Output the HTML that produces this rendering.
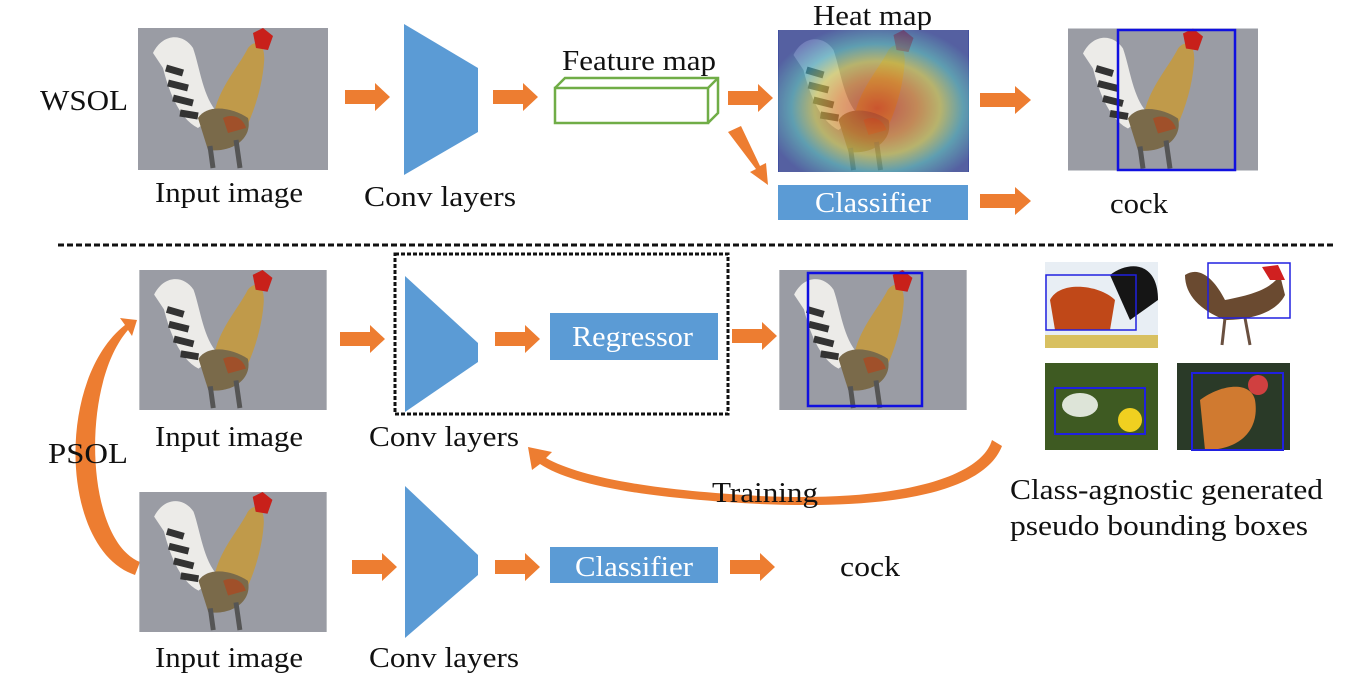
<!DOCTYPE html>
<html><head><meta charset="utf-8"><style>
body{margin:0;background:#fff}
svg{display:block}
text{font-family:"Liberation Serif",serif;fill:#111}
</style></head><body>
<svg width="1347" height="698" viewBox="0 0 1347 698" xmlns="http://www.w3.org/2000/svg">
<defs>
<symbol id="rooster" viewBox="0 0 190 142">
<rect width="190" height="142" fill="#9a9ca4"/>
<path d="M15 25 C25 5 45 5 55 20 C62 40 65 70 80 85 L60 100 C40 90 30 60 25 40 Z" fill="#ecebe8"/>
<path d="M28 40 L45 45 M30 55 L50 60 M35 70 L55 75 M42 85 L60 88" stroke="#333" stroke-width="7"/>
<path d="M75 90 C80 60 100 40 110 20 C118 10 128 15 126 35 C124 60 115 90 100 115 L70 120 Z" fill="#c09a4a"/>
<path d="M60 90 C70 75 95 80 110 90 C115 110 95 125 70 122 Z" fill="#7a6a4a"/>
<path d="M85 90 C95 85 105 90 108 100 L90 105 Z" fill="#a0502a"/>
<path d="M115 5 L125 0 L135 8 L130 22 L118 20 Z" fill="#c8201a"/>
<path d="M72 118 L75 140 M98 112 L102 140" stroke="#555" stroke-width="5"/>
</symbol>
<radialGradient id="heat" cx="0.52" cy="0.55" r="0.6">
<stop offset="0" stop-color="#d03020"/><stop offset="0.35" stop-color="#d88030"/><stop offset="0.55" stop-color="#c8c050"/><stop offset="0.75" stop-color="#40a0b8"/><stop offset="1" stop-color="#3040a0"/>
</radialGradient>
</defs>
<!-- top row -->
<text x="40" y="110" font-size="28" textLength="88" lengthAdjust="spacingAndGlyphs">WSOL</text>
<use href="#rooster" x="138" y="28" width="190" height="142"/>
<text x="155" y="202" font-size="28" textLength="148" lengthAdjust="spacingAndGlyphs">Input image</text>
<polygon points="345,90 375,90 375,83 390,97 375,111 375,104 345,104" fill="#ed7d31"/>
<polygon points="404,24 478,68 478,132 404,175" fill="#5b9bd5"/>
<text x="364" y="206" font-size="28" textLength="152" lengthAdjust="spacingAndGlyphs">Conv layers</text>
<polygon points="493,90 523,90 523,83 538,97 523,111 523,104 493,104" fill="#ed7d31"/>
<text x="562" y="70" font-size="28" textLength="154" lengthAdjust="spacingAndGlyphs">Feature map</text>
<g fill="none" stroke="#70ad47" stroke-width="2.5"><rect x="555" y="88" width="153" height="35"/><polyline points="555,88 565,78 718,78 718,113 708,123"/><line x1="708" y1="88" x2="718" y2="78"/></g>
<polygon points="728,91 758,91 758,84 773,98 758,112 758,105 728,105" fill="#ed7d31"/>
<text x="813" y="25" font-size="28" textLength="119" lengthAdjust="spacingAndGlyphs">Heat map</text>
<rect x="778" y="30" width="191" height="142" fill="url(#heat)"/>
<use href="#rooster" x="778" y="30" width="191" height="142" opacity="0.35"/>
<polygon points="728,132 741,126 760,166 766,163 768,185 750,172 756,169" fill="#ed7d31"/>
<rect x="778" y="185" width="190" height="35" fill="#5b9bd5"/>
<text x="815" y="212" font-size="28" textLength="116" lengthAdjust="spacingAndGlyphs" style="fill:#fff">Classifier</text>
<polygon points="980,93 1015,93 1015,86 1031,100 1015,114 1015,107 980,107" fill="#ed7d31"/>
<polygon points="980,194 1015,194 1015,187 1031,201 1015,215 1015,208 980,208" fill="#ed7d31"/>
<use href="#rooster" x="1068" y="28" width="190" height="143"/>
<rect x="1118" y="30" width="117" height="140" fill="none" stroke="#1010e0" stroke-width="2.5"/>
<text x="1110" y="213" font-size="28" textLength="58" lengthAdjust="spacingAndGlyphs">cock</text>
<line x1="58" y1="245" x2="1333" y2="245" stroke="#111" stroke-width="3" stroke-dasharray="6,3"/>
<!-- bottom -->
<use href="#rooster" x="138" y="270" width="190" height="140"/>
<text x="155" y="446" font-size="28" textLength="148" lengthAdjust="spacingAndGlyphs">Input image</text>
<path d="M135 575 C60 550 55 380 125 325 L120 318 L137 320 L132 336 L128 330 C80 385 85 540 140 562 Z" fill="#ed7d31"/>
<text x="48" y="463" font-size="28" textLength="80" lengthAdjust="spacingAndGlyphs">PSOL</text>
<rect x="395" y="254" width="333" height="160" fill="none" stroke="#111" stroke-width="3" stroke-dasharray="4,2"/>
<polygon points="340,332 370,332 370,325 385,339 370,353 370,346 340,346" fill="#ed7d31"/>
<polygon points="405,276 478,343 478,362 405,412" fill="#5b9bd5"/>
<polygon points="495,332 525,332 525,325 540,339 525,353 525,346 495,346" fill="#ed7d31"/>
<rect x="550" y="313" width="168" height="47" fill="#5b9bd5"/>
<text x="572" y="346" font-size="28" textLength="121" lengthAdjust="spacingAndGlyphs" style="fill:#fff">Regressor</text>
<polygon points="732,329 762,329 762,322 777,336 762,350 762,343 732,343" fill="#ed7d31"/>
<use href="#rooster" x="778" y="270" width="190" height="140"/>
<rect x="808" y="273" width="114" height="133" fill="none" stroke="#1010e0" stroke-width="2.5"/>
<text x="369" y="446" font-size="28" textLength="150" lengthAdjust="spacingAndGlyphs">Conv layers</text>
<path d="M1002 446 C985 490 900 510 760 504 C640 498 570 484 540 464 L532 470 L528 447 L552 452 L546 458 C580 477 650 490 760 496 C890 502 980 480 992 440 Z" fill="#ed7d31"/>
<text x="712" y="502" font-size="28" textLength="106" lengthAdjust="spacingAndGlyphs">Training</text>
<use href="#rooster" x="138" y="492" width="190" height="140"/>
<text x="155" y="667" font-size="28" textLength="148" lengthAdjust="spacingAndGlyphs">Input image</text>
<polygon points="352,560 382,560 382,553 397,567 382,581 382,574 352,574" fill="#ed7d31"/>
<polygon points="405,486 478,555 478,575 405,638" fill="#5b9bd5"/>
<text x="369" y="667" font-size="28" textLength="150" lengthAdjust="spacingAndGlyphs">Conv layers</text>
<polygon points="495,560 525,560 525,553 540,567 525,581 525,574 495,574" fill="#ed7d31"/>
<rect x="550" y="547" width="168" height="36" fill="#5b9bd5"/>
<text x="575" y="576" font-size="28" textLength="118" lengthAdjust="spacingAndGlyphs" style="fill:#fff">Classifier</text>
<polygon points="730,560 760,560 760,553 775,567 760,581 760,574 730,574" fill="#ed7d31"/>
<text x="840" y="576" font-size="28" textLength="60" lengthAdjust="spacingAndGlyphs">cock</text>
<!-- thumbnails -->
<rect x="1045" y="262" width="113" height="86" fill="#e8eef4"/>
<path d="M1050 300 C1060 280 1100 285 1115 300 L1110 330 L1055 330 Z" fill="#c04818"/>
<path d="M1110 275 C1130 260 1158 262 1158 300 L1130 320 Z" fill="#151515"/>
<rect x="1045" y="335" width="113" height="13" fill="#d8c060"/>
<rect x="1046" y="275" width="90" height="55" fill="none" stroke="#2020e0" stroke-width="1.5"/>
<path d="M1185 275 C1200 265 1215 280 1225 300 C1250 295 1270 290 1280 275 L1285 295 C1275 315 1245 320 1225 320 C1200 310 1185 295 1185 275 Z" fill="#6a4a30"/>
<path d="M1262 267 L1278 265 L1285 280 L1270 280 Z" fill="#d02020"/>
<path d="M1225 318 L1222 345 M1245 318 L1250 345" stroke="#6a5040" stroke-width="3"/>
<rect x="1208" y="263" width="82" height="55" fill="none" stroke="#2020e0" stroke-width="1.5"/>
<rect x="1045" y="363" width="113" height="87" fill="#3e5a22"/>
<ellipse cx="1080" cy="405" rx="18" ry="12" fill="#dde4d8"/>
<circle cx="1130" cy="420" r="12" fill="#f0d020"/>
<rect x="1055" y="388" width="90" height="46" fill="none" stroke="#2020e0" stroke-width="2"/>
<rect x="1177" y="363" width="113" height="87" fill="#2a3a28"/>
<path d="M1200 400 C1220 385 1250 380 1255 400 C1260 430 1240 450 1205 450 Z" fill="#d07a30"/>
<circle cx="1258" cy="385" r="10" fill="#d04040"/>
<rect x="1192" y="373" width="91" height="77" fill="none" stroke="#2020e0" stroke-width="2"/>
<text x="1010" y="499" font-size="28" textLength="313" lengthAdjust="spacingAndGlyphs">Class-agnostic generated</text>
<text x="1010" y="535" font-size="28" textLength="298" lengthAdjust="spacingAndGlyphs">pseudo bounding boxes</text>
</svg>
</body></html>
